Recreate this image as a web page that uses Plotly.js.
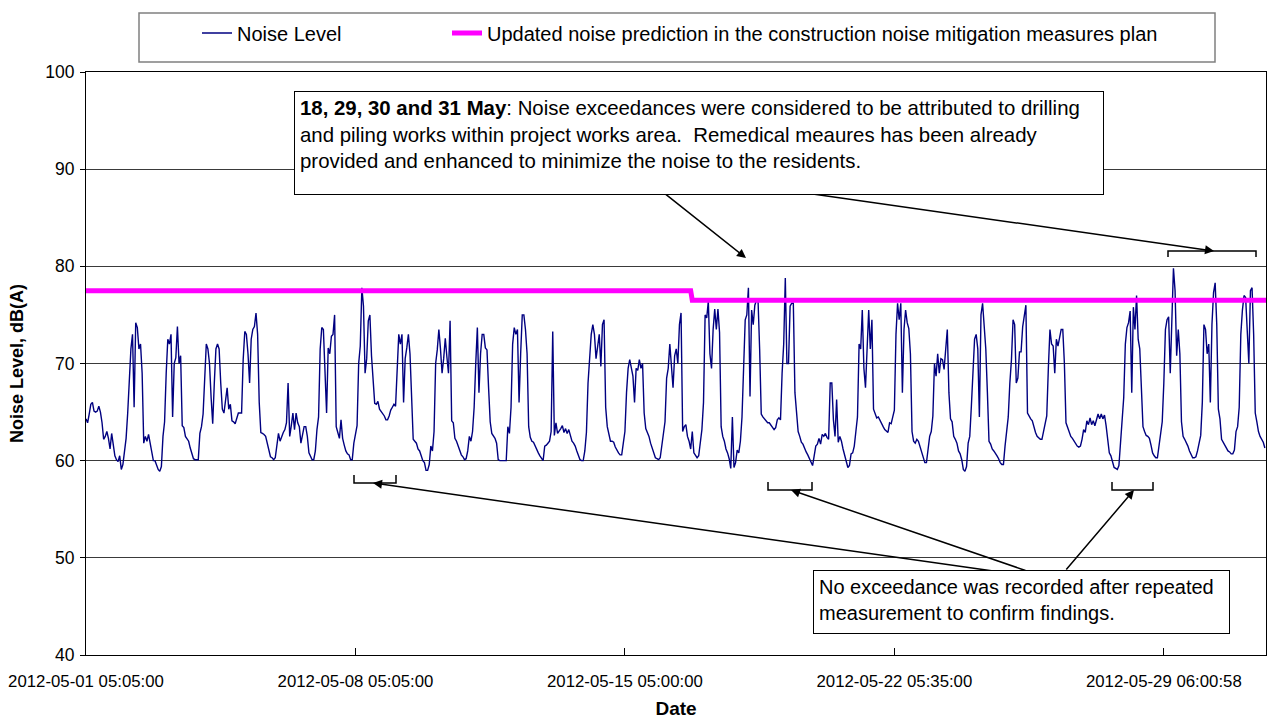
<!DOCTYPE html>
<html><head><meta charset="utf-8">
<script src="https://cdn.plot.ly/plotly-3.0.1.min.js"></script>
<style>html,body{margin:0;padding:0;background:#fff}#chart{width:1269px;height:719px}</style>
</head><body><div id="chart"></div>
<script>
// Hourly noise readings (dB(A)) starting 2012-05-01 05:05
const week1 = [
64.3,63.9,64.8,65.8,66.0,65.1,65.0,65.1,65.6,65.0,63.9,62.2,62.5,63.0,62.3,61.2,62.8,61.8,60.5,60.1,59.9,60.5,59.1,59.6,
60.8,62.3,64.9,69.0,71.5,73.0,65.5,74.2,73.7,71.5,72.0,69.0,61.8,62.5,62.0,62.7,61.8,61.0,60.0,60.0,59.5,59.1,58.9,59.4,
62.5,64.0,69.0,72.5,72.0,73.0,64.5,70.0,70.6,73.8,70.0,70.8,63.6,63.4,62.5,62.2,62.0,61.3,60.6,60.2,60.1,60.1,60.1,62.8,
63.5,64.8,69.0,72.0,71.5,70.0,66.5,63.8,68.0,71.5,72.0,71.5,68.0,65.3,64.9,66.0,67.5,65.3,65.8,64.1,64.0,63.8,64.5,64.9,
64.9,64.9,70.4,73.3,73.0,71.0,68.0,72.5,73.5,73.8,75.2,73.0,66.0,62.9,62.8,62.7,62.5,61.8,61.3,60.4,60.3,60.1,60.3,61.8,
62.8,62.0,62.5,62.9,63.2,63.9,68.0,62.5,63.6,64.9,63.2,64.9,63.9,63.5,61.8,62.8,63.5,63.5,62.5,60.8,60.4,60.1,60.1,61.0,
63.2,64.5,71.5,73.7,73.5,68.4,64.9,71.6,71.0,72.8,73.0,75.0,63.5,62.9,62.3,64.2,62.3,61.6,61.0,60.7,60.6,60.1,60.1,61.8
];
const week2 = [
62.9,63.6,70.0,71.8,77.8,75.9,69.0,70.5,74.4,75.0,70.8,68.5,65.9,65.8,66.1,65.3,65.1,64.8,64.6,64.2,64.2,64.6,65.2,65.5,
65.8,65.6,69.0,73.0,72.0,73.0,66.0,70.5,71.6,73.0,71.0,66.0,62.2,62.0,61.8,61.2,61.0,60.5,60.0,59.8,59.0,59.0,59.6,61.5,
61.0,63.0,70.0,71.4,73.5,71.5,69.0,70.5,72.6,70.7,69.0,74.4,64.1,63.9,62.3,62.0,61.5,61.0,60.6,60.4,60.1,60.2,61.0,62.5,
62.0,63.0,65.5,70.0,73.7,67.0,71.0,73.0,73.0,71.6,71.4,67.5,64.0,62.8,62.5,62.3,61.8,60.1,60.0,60.0,60.0,60.0,60.0,63.5,
62.8,65.5,72.0,73.7,73.0,73.5,66.0,71.0,75.0,75.0,73.5,71.0,63.5,62.4,62.0,61.9,61.5,61.0,60.8,60.5,60.2,60.0,61.5,61.6,
61.8,62.0,63.0,73.3,62.6,63.9,62.8,63.0,63.3,63.6,62.9,63.3,62.8,63.2,62.5,62.0,61.8,61.5,61.0,60.5,60.1,60.0,60.0,61.0,
62.9,68.0,71.0,73.0,74.0,73.0,70.5,72.0,73.0,69.7,74.0,74.5,65.5,63.5,62.6,62.0,62.0,61.9,61.4,61.0,60.8,60.6,60.6,61.8
];
const week3 = [
63.0,67.0,69.5,70.4,69.3,68.7,66.0,69.5,69.3,70.4,69.5,70.0,64.9,63.3,62.9,62.5,61.8,61.3,60.8,60.3,60.2,60.1,60.3,61.6,
62.5,64.0,68.5,69.5,72.0,69.5,67.5,70.8,71.5,70.0,74.0,75.2,63.0,63.5,63.7,62.5,62.0,61.2,63.0,60.8,60.5,60.3,60.5,61.7,
63.2,66.0,75.0,74.7,76.4,71.0,69.5,73.5,75.6,73.5,75.6,73.2,63.5,62.5,62.0,61.2,60.8,60.2,59.2,64.5,59.3,59.8,61.1,60.8,
62.0,64.5,68.7,74.5,75.0,77.8,66.6,75.5,74.0,76.0,76.5,76.5,71.5,64.8,64.5,64.3,64.2,63.9,63.9,63.7,63.4,63.2,63.4,64.2,
64.4,64.2,69.0,72.0,78.8,70.0,70.0,75.9,76.2,76.2,67.0,64.5,63.0,62.5,61.9,61.7,61.2,60.9,60.6,60.2,59.8,59.5,60.5,61.5,
61.7,62.3,61.7,62.7,62.5,62.8,62.4,62.2,68.0,68.0,64.2,62.5,66.3,61.9,62.5,62.0,61.2,60.5,59.8,59.3,59.5,60.7,60.8,61.5,
63.0,64.5,72.0,71.5,75.5,69.5,67.5,72.5,75.5,71.5,74.5,65.3,64.9,64.4,64.5,64.1,63.9,63.5,63.2,63.0,62.9,63.9,63.8,64.5
];
const week4 = [
65.2,73.0,76.2,74.5,76.2,67.0,73.5,75.5,74.2,73.6,71.0,63.0,62.0,61.8,62.2,62.0,61.5,60.8,60.3,59.8,59.8,61.2,62.5,63.0,
64.6,70.0,68.7,71.0,69.0,70.5,70.4,69.4,71.5,73.5,67.0,64.3,64.0,62.5,62.2,61.8,61.0,60.7,60.1,59.1,58.9,59.4,61.8,62.5,
65.6,69.5,72.5,73.0,71.5,64.5,75.0,76.2,73.8,71.5,67.0,62.0,61.7,61.2,61.0,60.8,60.5,60.2,59.8,59.6,59.6,61.5,63.2,64.5,
68.0,70.4,74.5,74.0,68.0,68.5,71.2,71.2,73.8,74.8,76.0,64.9,64.5,64.3,64.1,63.4,62.9,62.5,62.3,62.2,62.2,63.0,63.9,64.6,
69.5,73.5,72.0,71.8,69.0,72.5,71.8,72.8,73.5,73.5,70.0,63.9,63.4,63.1,62.5,62.3,62.0,61.7,61.5,61.4,61.5,62.2,63.2,62.9,
64.1,63.7,64.4,63.7,64.1,63.6,64.2,64.8,64.3,64.8,64.3,64.7,63.6,62.0,60.8,60.5,60.0,59.3,59.2,59.1,59.5,62.1,63.5,66.5,
72.0,73.7,74.2,75.4,67.0,75.8,73.5,77.0,72.5,71.5,67.5,63.5,63.0,62.6,62.5,62.3,61.6,60.8,60.5,60.3,60.3,61.5,62.4,64.0
];
const week5 = [
68.0,73.5,74.5,74.8,69.0,76.0,79.8,77.5,70.8,73.5,71.0,64.0,62.5,62.2,61.9,61.5,61.0,60.6,60.3,60.3,60.4,61.0,61.9,62.6,
66.0,74.0,73.5,71.0,72.0,66.0,74.0,77.3,78.3,74.0,65.3,64.3,62.2,61.9,61.5,61.2,61.0,60.9,60.7,60.7,61.1,63.0,63.5,65.5,
73.0,75.5,77.0,76.8,72.5,70.0,77.5,77.8,73.0,64.9,64.0,63.0,62.5,62.2,61.9,61.3
];
const predX = ['2012-05-01 05:05','2012-05-16 22:05','2012-05-16 23:05','2012-05-31 20:47'];
const predY = [77.5,77.5,76.5,76.5];
const tickVals = ['2012-05-01 05:05','2012-05-08 05:05','2012-05-15 05:05','2012-05-22 05:05','2012-05-29 05:05'];
const tickText = ['2012-05-01 05:05:00','2012-05-08 05:05:00','2012-05-15 05:00:00','2012-05-22 05:35:00','2012-05-29 06:00:58'];
const seriesNames = ['Noise Level','Updated noise prediction in the construction noise mitigation measures plan'];

const noise = [].concat(week1, week2, week3, week4, week5);
const t0 = Date.UTC(2012, 4, 1, 5, 5);
const dates = noise.map((v, i) => new Date(t0 + i * 3600000).toISOString().slice(0, 16).replace('T', ' '));

const PL = 86, PT = 72, PW = 1180, PH = 583;
const px = x => (x - PL) / PW;
const py = y => (PT + PH - y) / PH;
const FONT = 'Liberation Sans, Arial, sans-serif';

function arrow(hx, hy, tx, ty) {
  return {xref: 'paper', yref: 'paper', x: px(hx), y: py(hy), ax: tx - hx, ay: ty - hy,
    text: '', showarrow: true, arrowhead: 2, arrowsize: 1.2, arrowwidth: 1.5, arrowcolor: '#000'};
}
function bracket(x0, x1, yLine, yTick) {
  return {type: 'path', xref: 'paper', yref: 'paper',
    path: `M${px(x0)},${py(yTick)} L${px(x0)},${py(yLine)} L${px(x1)},${py(yLine)} L${px(x1)},${py(yTick)}`,
    line: {color: '#000', width: 1.5}};
}

const traces = [
  {x: dates, y: noise, type: 'scatter', mode: 'lines', name: seriesNames[0], legend: 'legend',
   line: {color: '#000080', width: 1.4}},
  {x: predX, y: predY, type: 'scatter', mode: 'lines', name: seriesNames[1], legend: 'legend2',
   line: {color: '#FF00FF', width: 5}}
];

const legendBase = {orientation: 'h', y: py(33), xanchor: 'left', yanchor: 'middle',
  font: {size: 20, family: FONT}, bgcolor: 'rgba(0,0,0,0)', borderwidth: 0};

const layout = {
  width: 1269, height: 719,
  margin: {l: PL, r: 1269 - PL - PW, t: PT, b: 719 - PT - PH, pad: 0},
  paper_bgcolor: '#fff', plot_bgcolor: '#fff',
  font: {family: FONT, color: '#000', size: 17},
  showlegend: true,
  legend: Object.assign({}, legendBase, {x: px(197)}),
  legend2: Object.assign({}, legendBase, {x: px(447)}),
  xaxis: {type: 'date', range: ['2012-05-01 05:05', '2012-05-31 20:47'],
    tickmode: 'array', tickvals: tickVals, ticktext: tickText,
    ticks: 'inside', ticklen: 7, tickcolor: '#000', showgrid: false, zeroline: false,
    showline: true, linecolor: '#000', linewidth: 1, mirror: true,
    ticklabelstandoff: 11,
    tickfont: {size: 16.8, family: FONT},
    title: {text: '<b>Date</b>', font: {size: 19, family: FONT}, standoff: 12}},
  yaxis: {range: [40, 100], dtick: 10, tick0: 40, ticks: 'outside', ticklen: 5, tickcolor: '#000',
    showgrid: true, gridcolor: '#3a3a3a', gridwidth: 1, zeroline: false,
    showline: true, linecolor: '#000', linewidth: 1, mirror: true,
    ticklabelstandoff: 2,
    tickfont: {size: 17.5, family: FONT},
    title: {text: '<b>Noise Level, dB(A)</b>', font: {size: 18, family: FONT}, standoff: 16}},
  shapes: [
    {type: 'rect', xref: 'paper', yref: 'paper', x0: px(139), x1: px(1215), y0: py(62), y1: py(13),
     line: {color: '#808080', width: 1.5}, fillcolor: 'rgba(0,0,0,0)', layer: 'below'},
    bracket(354, 396, 483, 475),
    bracket(768, 812, 490, 482),
    bracket(1112, 1153, 490, 482),
    bracket(1168, 1256, 251, 257)
  ],
  annotations: [
    arrow(746, 258, 664, 193),
    arrow(1214, 251, 806, 193),
    arrow(373, 483, 993, 571),
    arrow(791, 490, 1027, 571),
    arrow(1134, 490, 1065, 571),
    {xref: 'paper', yref: 'paper', x: px(294), y: py(91), xanchor: 'left', yanchor: 'top',
     align: 'left', valign: 'top', width: 798, height: 92, borderpad: 5,
     bordercolor: '#000', borderwidth: 1, bgcolor: '#fff', showarrow: false,
     font: {size: 20.4, family: FONT},
     text: '<b>18, 29, 30 and 31 May</b>: Noise exceedances were considered to be attributed to drilling<br>and piling works within project works area.  Remedical meaures has been already<br>provided and enhanced to minimize the noise to the residents.'},
    {xref: 'paper', yref: 'paper', x: px(813), y: py(570), xanchor: 'left', yanchor: 'top',
     align: 'left', valign: 'top', width: 405, height: 52, borderpad: 5,
     bordercolor: '#000', borderwidth: 1, bgcolor: '#fff', showarrow: false,
     font: {size: 20, family: FONT},
     text: 'No exceedance was recorded after repeated<br>measurement to confirm findings.'}
  ]
};

Plotly.newPlot('chart', traces, layout, {displayModeBar: false, responsive: false});
</script>
</body></html>
